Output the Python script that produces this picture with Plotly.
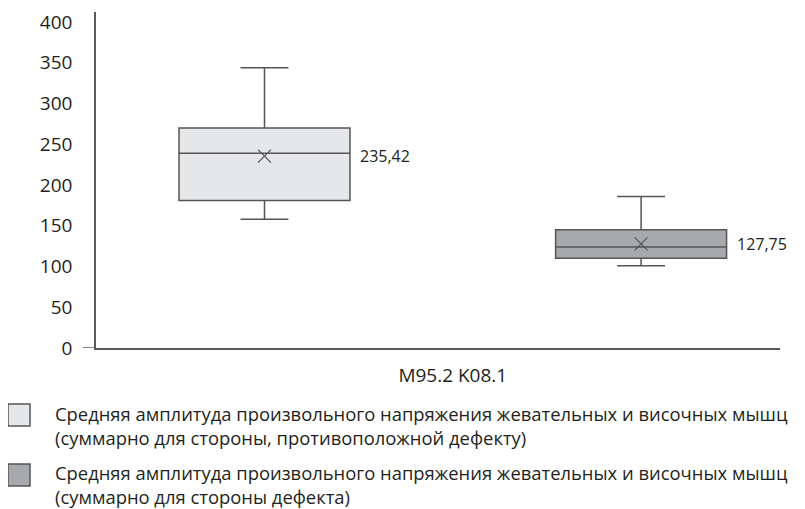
import plotly.graph_objects as go

category = "M95.2 K08.1"
series_names = [
    "Средняя амплитуда произвольного напряжения жевательных и височных мышц<br>(суммарно для стороны, противоположной дефекту)",
    "Средняя амплитуда произвольного напряжения жевательных и височных мышц<br>(суммарно для стороны дефекта)",
]
lower_whisker = [158, 101]
q1_values = [181, 110]
median_values = [239, 124]
q3_values = [270, 145]
upper_whisker = [344, 186]
mean_values = [235.42, 127.75]
mean_labels = ["235,42", "127,75"]
y_ticks = [0, 50, 100, 150, 200, 250, 300, 350, 400]

fills = ["#e6e7e8", "#a7a9ac"]
line_col = "#555557"
axis_col = "#5a5a5a"
text_col = "#231f20"
FONT = "Open Sans"

boxgap = 0.3
boxgroupgap = 0.546

fig = go.Figure()
for i in range(2):
    fig.add_trace(go.Box(
        x=[category], q1=[q1_values[i]], median=[median_values[i]], q3=[q3_values[i]],
        lowerfence=[lower_whisker[i]], upperfence=[upper_whisker[i]],
        name=series_names[i], offsetgroup=str(i), showlegend=False,
        fillcolor=fills[i], line=dict(color=line_col, width=1.5),
        whiskerwidth=0.28, boxpoints=False, hoverinfo="skip",
    ))
for i in range(2):
    fig.add_trace(go.Scatter(
        x=[category], y=[mean_values[i]], mode="markers", offsetgroup=str(i),
        marker=dict(symbol="x-thin-open", size=13, color=line_col,
                    line=dict(color=line_col, width=1.3)),
        showlegend=False, hoverinfo="skip",
    ))

# mean value labels to the right of each box
for i in range(2):
    bpos = (-0.25 + 0.5 * i) * (1 - boxgap)
    half_w = 0.25 * (1 - boxgap) * (1 - boxgroupgap)
    fig.add_annotation(x=bpos + half_w, y=mean_values[i], xref="x", yref="y",
                       text=mean_labels[i], showarrow=False, xanchor="left",
                       xshift=8, font=dict(family=FONT, size=16, color=text_col))

# axis crossing tick marks
fig.add_shape(type="line", xref="paper", xsizemode="pixel", xanchor=0, x0=-13, x1=0,
              yref="y", y0=0, y1=0, line=dict(color=axis_col, width=1.5))
fig.add_shape(type="line", xref="paper", x0=0, x1=0, yref="y", ysizemode="pixel",
              yanchor=0, y0=-11, y1=0, line=dict(color=axis_col, width=1.5))

# legend (swatches + text) below the plot
legend_text_shift = [-77, -136]
swatch_top = [-56, -116]
for i in range(2):
    fig.add_shape(type="rect", xref="paper", yref="paper",
                  xsizemode="pixel", xanchor=0, x0=-88, x1=-66,
                  ysizemode="pixel", yanchor=0, y0=swatch_top[i], y1=swatch_top[i] - 22,
                  fillcolor=fills[i], line=dict(color=line_col, width=1.5))
    fig.add_annotation(x=0, y=0, xref="paper", yref="paper", xanchor="left",
                       yanchor="middle", xshift=-43, yshift=legend_text_shift[i],
                       align="left", showarrow=False, text=series_names[i],
                       font=dict(family=FONT, size=18.4, color=text_col))

fig.update_layout(
    width=797, height=501,
    margin=dict(l=88, r=25, t=4, b=161, autoexpand=False),
    paper_bgcolor="white", plot_bgcolor="white",
    boxmode="group", boxgap=boxgap, boxgroupgap=boxgroupgap,
    scattermode="group", scattergap=boxgap,
    font=dict(family=FONT, size=16, color=text_col),
    showlegend=False,
    xaxis=dict(type="category", range=[-0.3316, 0.3041], showline=True,
               linecolor=axis_col, linewidth=1.5, showgrid=False, zeroline=False,
               ticks="", ticklabelstandoff=9, tickfont=dict(size=19, color=text_col)),
    yaxis=dict(range=[0, 412.3], tickvals=y_ticks, showline=True, linecolor=axis_col,
               linewidth=1.5, showgrid=False, zeroline=False, ticks="",
               ticklabelstandoff=18, tickfont=dict(size=19, color=text_col)),
)

fig.write_html("out.html")
